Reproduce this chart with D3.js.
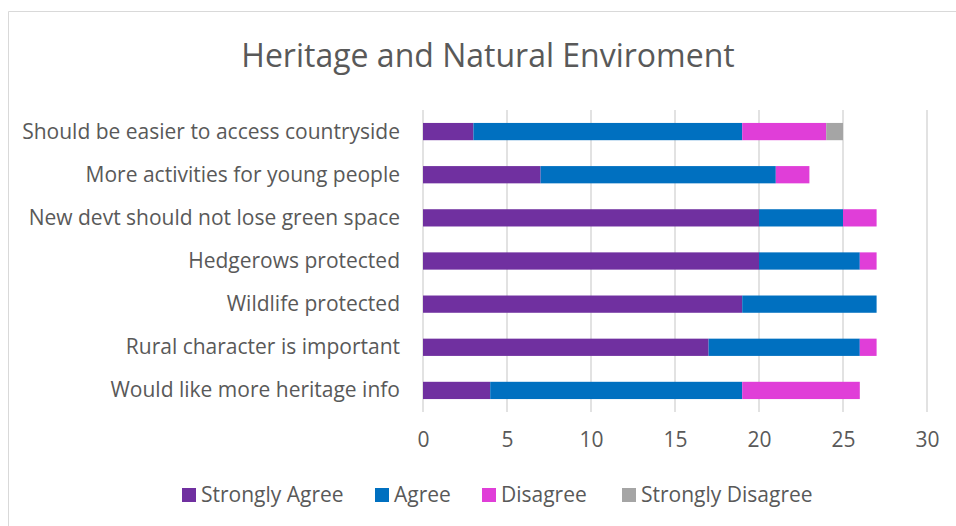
<!DOCTYPE html>
<html>
<head>
<meta charset="utf-8">
<script src="https://cdn.jsdelivr.net/npm/d3@7"></script>
<style>
  body { margin: 0; background: #fff; }
  text { font-family: "Open Sans", sans-serif; fill: #595959; }
</style>
</head>
<body>
<div id="chart"></div>
<script>
// categories, top to bottom
var categories = [
    "Should be easier to access countryside",
    "More activities for young people",
    "New devt should not lose green space",
    "Hedgerows protected",
    "Wildlife protected",
    "Rural character is important",
    "Would like more heritage info"
];

var seriesNames = ["Strongly Agree", "Agree", "Disagree", "Strongly Disagree"];
var seriesColors = ["#7030a0", "#0070c0", "#e03ed8", "#a5a5a5"];

var stronglyAgree    = [3, 7, 20, 20, 19, 17, 4];
var agree            = [16, 14, 5, 6, 8, 9, 15];
var disagree         = [5, 2, 2, 1, 0, 1, 7];
var stronglyDisagree = [1, 0, 0, 0, 0, 0, 0];

var xTicks = [0, 5, 10, 15, 20, 25, 30];

var width = 956, height = 526;
var margin = {left: 423, right: 29, top: 110, bottom: 114};

var rows = categories.map(function (c, i) {
    return {
        category: c,
        "Strongly Agree": stronglyAgree[i],
        "Agree": agree[i],
        "Disagree": disagree[i],
        "Strongly Disagree": stronglyDisagree[i]
    };
});

var svg = d3.select("#chart").append("svg")
    .attr("width", width)
    .attr("height", height);

// outer chart border (top and left visible)
svg.append("path")
    .attr("d", "M8.5," + height + "V11.5H" + width)
    .attr("fill", "none")
    .attr("stroke", "#d9d9d9")
    .attr("stroke-width", 1);

svg.append("text")
    .attr("x", 488)
    .attr("y", 67)
    .attr("text-anchor", "middle")
    .style("font-size", "32px")
    .text("Heritage and Natural Enviroment");

var x = d3.scaleLinear()
    .domain([0, 30])
    .range([margin.left, width - margin.right]);

var y = d3.scaleBand()
    .domain(categories)
    .range([margin.top, height - margin.bottom])
    .paddingInner(0.6)
    .paddingOuter(0.3);

// gridlines
svg.append("g")
    .selectAll("line")
    .data(xTicks)
    .enter().append("line")
    .attr("x1", function (d) { return x(d); })
    .attr("x2", function (d) { return x(d); })
    .attr("y1", margin.top)
    .attr("y2", height - margin.bottom)
    .attr("stroke", "#d9d9d9")
    .attr("stroke-width", 1.5);

// stacked bars
var stack = d3.stack().keys(seriesNames)(rows);

svg.append("g")
    .selectAll("g")
    .data(stack)
    .enter().append("g")
    .attr("fill", function (d, i) { return seriesColors[i]; })
    .selectAll("rect")
    .data(function (d) { return d; })
    .enter().append("rect")
    .attr("x", function (d) { return x(d[0]); })
    .attr("y", function (d) { return y(d.data.category); })
    .attr("width", function (d) { return x(d[1]) - x(d[0]); })
    .attr("height", y.bandwidth());

// x axis labels
var xAxis = svg.append("g")
    .attr("transform", "translate(0," + (height - margin.bottom) + ")")
    .call(d3.axisBottom(x).tickValues(xTicks).tickSize(0).tickPadding(20));
xAxis.select(".domain").remove();
xAxis.selectAll("text")
    .style("font-size", "21px")
    .style("font-family", null)
    .attr("fill", "#595959");

// category labels
var yAxis = svg.append("g")
    .attr("transform", "translate(" + margin.left + ",0)")
    .call(d3.axisLeft(y).tickSize(0).tickPadding(23));
yAxis.select(".domain").remove();
yAxis.selectAll("text")
    .style("font-size", "21px")
    .style("font-family", null)
    .attr("fill", "#595959")
    .attr("dy", "0.33em");

// legend
var legendX = [182, 375, 482, 622];
var legend = svg.append("g")
    .selectAll("g")
    .data(seriesNames)
    .enter().append("g")
    .attr("transform", function (d, i) {
        return "translate(" + legendX[i] + ",488)";
    });

legend.append("rect")
    .attr("width", 14)
    .attr("height", 14)
    .attr("fill", function (d, i) { return seriesColors[i]; });

legend.append("text")
    .attr("x", 19)
    .attr("y", 7)
    .attr("dy", "0.34em")
    .style("font-size", "21px")
    .text(function (d) { return d; });
</script>
</body>
</html>
